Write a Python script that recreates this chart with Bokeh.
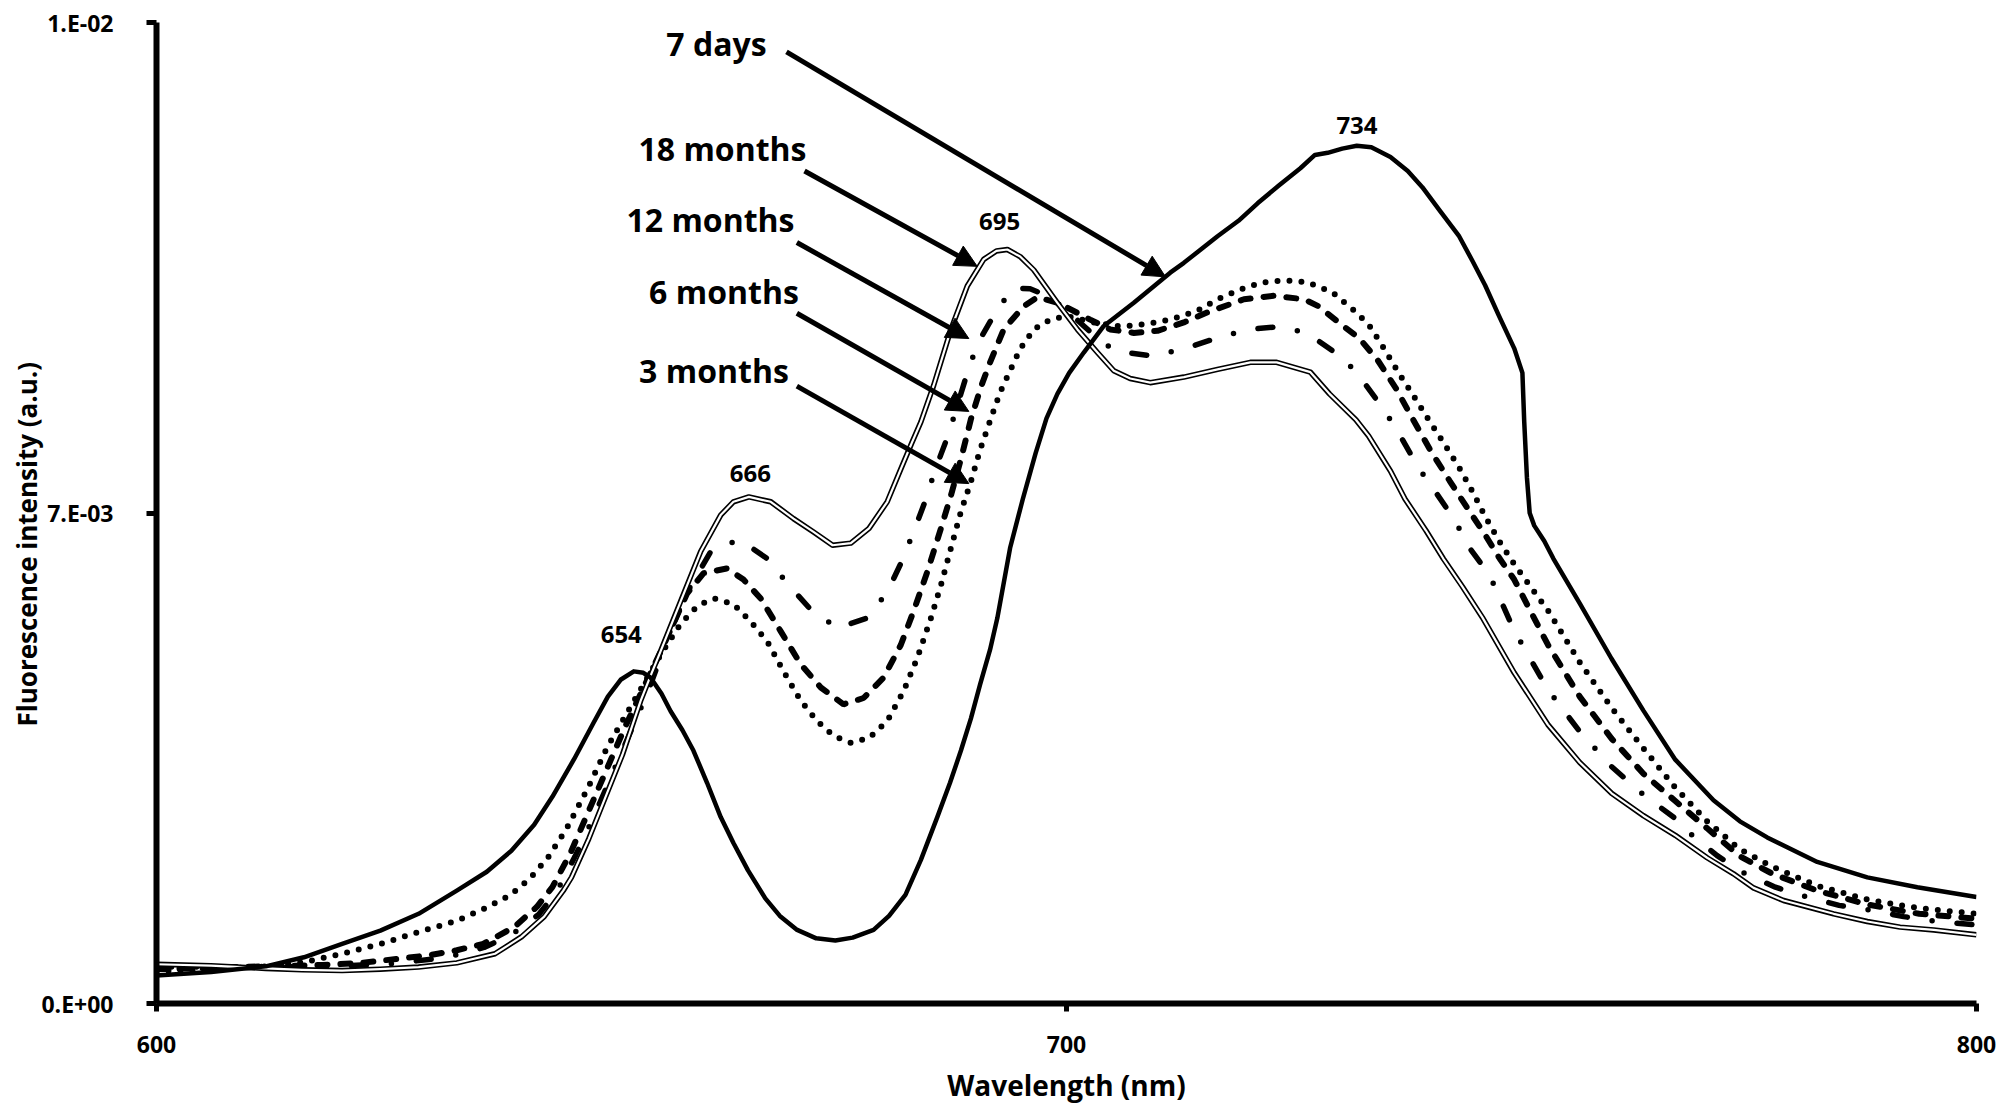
from bokeh.plotting import figure
from bokeh.models import Range1d, FixedTicker, Label, Arrow, NormalHead, Title
from bokeh.embed import file_html
from bokeh.resources import INLINE

# ---------------- data (wavelength nm, intensity in units of 1e-3 a.u.) ----------------
days_7 = [(600, 0.40), (606, 0.45), (612, 0.53), (616.2, 0.66), (620.4, 0.85), (624.6, 1.04),
          (628.8, 1.28), (633.0, 1.61), (636.3, 1.88), (639.0, 2.18), (641.5, 2.55), (643.5, 2.95),
          (645.9, 3.49), (648.0, 4.0), (649.6, 4.38), (651.0, 4.62), (652.45, 4.74), (653.5, 4.72),
          (654.3, 4.65), (655.5, 4.42), (656.5, 4.17), (657.8, 3.90), (659.0, 3.61), (660.5, 3.15),
          (662.0, 2.66), (663.4, 2.29), (665.0, 1.90), (666.9, 1.50), (668.5, 1.25), (670.4, 1.05),
          (672.5, 0.93), (674.6, 0.90), (676.5, 0.94), (678.8, 1.05), (680.5, 1.25), (682.3, 1.55),
          (684.0, 2.05), (685.8, 2.66), (687.2, 3.15), (688.4, 3.61), (689.5, 4.07), (690.5, 4.55),
          (691.6, 5.05), (692.4, 5.5), (693.8, 6.5), (695.2, 7.2), (696.6, 7.85), (697.8, 8.35),
          (699.0, 8.7), (700.3, 9.0), (701.9, 9.29), (704.1, 9.67), (707.4, 10.0), (711.4, 10.43),
          (712.9, 10.57), (716.6, 10.95), (718.9, 11.17), (721.0, 11.42), (723.3, 11.67),
          (725.7, 11.92), (727.3, 12.11), (728.7, 12.14), (730.3, 12.20), (731.9, 12.24),
          (733.5, 12.22), (735.6, 12.08), (737.5, 11.88), (739.1, 11.65), (741.0, 11.32),
          (743.1, 10.96), (744.6, 10.6), (746.0, 10.25), (747.5, 9.82), (749.2, 9.35), (750.1, 9.0),
          (750.3, 8.3), (750.6, 7.5), (750.9, 7.0), (751.4, 6.82), (752.5, 6.6), (753.5, 6.35),
          (756.4, 5.71), (759.9, 4.92), (763.4, 4.18), (766.9, 3.48), (771.1, 2.90), (774.0, 2.60),
          (777.0, 2.37), (782.5, 2.02), (788.0, 1.80), (793.5, 1.66), (800, 1.52)]

months_3 = [(600, 0.46), (606, 0.49), (612, 0.53), (616.2, 0.59), (620.4, 0.71), (624.6, 0.85),
            (628.8, 1.02), (633.0, 1.18), (636.3, 1.37), (638.9, 1.55), (641.0, 1.78), (643.0, 2.08),
            (645.0, 2.48), (647.5, 3.1), (649.5, 3.65), (651.5, 4.1), (653.5, 4.55), (655.5, 5.0),
            (657.6, 5.42), (659.5, 5.68), (661.3, 5.78), (663.4, 5.70), (665.3, 5.45), (667.1, 5.17),
            (668.9, 4.74), (670.8, 4.32), (672.6, 4.03), (674.4, 3.82), (676.3, 3.72), (678.3, 3.79),
            (680.3, 4.03), (682.1, 4.46), (683.6, 4.93), (685.1, 5.50), (686.2, 5.97), (687.3, 6.50),
            (688.4, 7.02), (689.5, 7.45), (690.5, 7.9), (691.8, 8.39), (692.7, 8.72), (693.8, 9.03),
            (694.9, 9.34), (696.4, 9.62), (698.2, 9.76), (700.1, 9.81), (703.0, 9.72), (706.0, 9.66),
            (709.0, 9.70), (711.4, 9.76), (714.3, 9.88), (716.6, 10.05), (719.1, 10.19),
            (721.5, 10.29), (724.1, 10.32), (726.5, 10.29), (729.2, 10.15), (731.6, 9.89),
            (733.2, 9.69), (734.6, 9.41), (736.6, 8.98), (738.1, 8.68), (739.6, 8.37), (741.1, 8.07),
            (743.1, 7.66), (744.6, 7.31), (746.0, 6.95), (747.6, 6.59), (749.3, 6.25), (752.9, 5.61),
            (756.4, 4.87), (759.9, 4.22), (763.4, 3.64), (766.9, 3.08), (770.4, 2.60), (774.0, 2.20),
            (777.6, 1.95), (782.5, 1.68), (788.1, 1.48), (793.7, 1.36), (800, 1.28)]

months_6 = [(600, 0.49), (606, 0.51), (612, 0.53), (618.3, 0.55), (622.5, 0.58), (626.7, 0.64),
            (630.0, 0.69), (633.0, 0.76), (635.9, 0.85), (639.3, 1.09), (641.8, 1.38), (643.5, 1.66),
            (645.5, 2.15), (647.5, 2.75), (649.5, 3.35), (651.5, 3.95), (653.5, 4.5), (655.5, 5.05),
            (658.3, 5.85), (660.1, 6.14), (662.7, 6.21), (664.5, 6.05), (666.4, 5.78), (668.6, 5.31),
            (670.8, 4.84), (673.0, 4.51), (675.5, 4.27), (677.7, 4.36), (679.9, 4.65), (681.8, 5.12),
            (683.2, 5.60), (684.7, 6.16), (686.2, 6.78), (687.3, 7.25), (688.4, 7.77), (689.5, 8.34),
            (690.6, 8.8), (691.6, 9.15), (693.1, 9.62), (695.3, 9.95), (696.8, 10.08), (699.0, 10.0),
            (700.1, 9.93), (702.6, 9.76), (704.8, 9.62), (707.4, 9.57), (710.0, 9.60), (712.9, 9.72),
            (715.8, 9.88), (719.5, 10.05), (722.8, 10.10), (726.1, 10.05), (727.7, 9.95),
            (730.2, 9.69), (732.2, 9.49), (734.2, 9.18), (736.2, 8.78), (738.1, 8.33), (740.1, 7.87),
            (742.1, 7.46), (744.1, 7.06), (746.0, 6.69), (747.6, 6.35), (749.2, 6.05), (752.9, 5.12),
            (756.4, 4.38), (759.9, 3.78), (763.4, 3.28), (766.9, 2.89), (770.4, 2.50), (774.0, 2.10),
            (777.6, 1.85), (782.5, 1.61), (788.1, 1.41), (793.7, 1.28), (800, 1.21)]

months_12 = [(600, 0.52), (606, 0.52), (612, 0.53), (618, 0.52), (626, 0.57), (632, 0.66),
             (636, 0.80), (639, 0.98), (642, 1.27), (644, 1.60), (646, 2.1), (648, 2.65), (650, 3.25),
             (652, 3.85), (654, 4.45), (656, 5.15), (658, 5.8), (660.9, 6.45), (662.0, 6.54),
             (664.2, 6.61), (667.1, 6.35), (669.5, 5.97), (671.9, 5.62), (674.8, 5.36), (678.1, 5.50),
             (680.3, 5.87), (681.9, 6.31), (683.2, 6.73), (684.5, 7.18), (685.6, 7.63), (687.0, 8.11),
             (689.1, 9.0), (690.2, 9.41), (692.4, 9.91), (694.2, 10.21), (696.0, 10.20),
             (697.5, 10.12), (699.7, 9.93), (701.9, 9.67), (704.0, 9.42), (705.9, 9.30), (709.6, 9.24),
             (713.1, 9.35), (716.6, 9.50), (720.0, 9.62), (723.5, 9.66), (726.0, 9.58), (727.3, 9.49),
             (730.5, 9.2), (732.6, 8.88), (734.9, 8.47), (736.6, 8.12), (738.6, 7.66), (740.5, 7.31),
             (742.6, 6.91), (744.3, 6.50), (746.5, 6.11), (749.2, 5.32), (752.9, 4.48), (756.4, 3.88),
             (759.9, 3.38), (763.4, 2.98), (766.9, 2.64), (768.6, 2.42), (771.5, 2.11), (774.6, 1.85),
             (777.9, 1.66), (781.4, 1.52), (784.9, 1.40), (788.4, 1.33), (792.0, 1.24), (795.7, 1.17),
             (800, 1.12)]

months_18 = [(600, 0.56), (606, 0.54), (612, 0.50), (616, 0.48), (620.4, 0.47), (624.6, 0.49),
             (628.8, 0.52), (633.0, 0.58), (637.2, 0.71), (640.1, 0.95), (642.6, 1.24), (644.7, 1.61),
             (645.6, 1.80), (647.5, 2.35), (649.5, 3.0), (651.2, 3.55), (653.2, 4.32), (654.3, 4.68),
             (655.4, 5.03), (657.6, 5.74), (659.8, 6.45), (662.0, 6.97), (663.4, 7.16), (665.1, 7.23),
             (667.5, 7.16), (670.0, 6.92), (672.2, 6.73), (674.3, 6.54), (676.3, 6.57), (678.3, 6.78),
             (680.3, 7.16), (681.8, 7.63), (683.0, 8.0), (684.0, 8.3), (685.4, 8.82), (687.3, 9.62),
             (689.1, 10.24), (690.9, 10.62), (692.3, 10.74), (693.5, 10.76), (694.9, 10.66),
             (696.4, 10.47), (699.0, 10.0), (701.2, 9.62), (703.4, 9.29), (705.2, 9.03), (707.0, 8.92),
             (709.2, 8.86), (712.9, 8.94), (716.6, 9.05), (720.2, 9.15), (723.1, 9.15), (726.8, 9.01),
             (728.9, 8.70), (731.8, 8.33), (733.2, 8.10), (735.6, 7.6), (737.2, 7.2), (739.5, 6.75),
             (741.4, 6.35), (743.5, 5.95), (745.7, 5.51), (749.2, 4.72), (752.9, 3.98), (756.4, 3.44),
             (759.9, 3.0), (763.4, 2.68), (766.9, 2.40), (770.4, 2.08), (773.3, 1.85), (775.5, 1.65),
             (778.8, 1.47), (784.3, 1.28), (788.0, 1.17), (791.6, 1.09), (795.3, 1.05), (800, 0.98)]

UNIT = 1e-3  # the series above are given in units of 1e-3 a.u.

x_ticks = [600, 700, 800]
x_tick_labels = ["600", "700", "800"]
y_ticks = [0.0, 0.007, 0.014]
y_tick_labels = ["0.E+00", "7.E-03", "1.E-02"]

series_names = ["7 days", "18 months", "12 months", "6 months", "3 months"]
peak_labels = ["654", "666", "695", "734"]

# ---------------- annotation placement (data coordinates) ----------------
name_pos = {"7 days": (661.54, 13.70), "18 months": (662.20, 12.20), "12 months": (660.88, 11.19),
            "6 months": (662.36, 10.16), "3 months": (661.26, 9.03)}
arrow_pos = {"7 days": ((669.23, 13.58), (710.88, 10.37)),
             "18 months": ((671.21, 11.88), (690.19, 10.52)),
             "12 months": ((670.37, 10.86), (689.27, 9.49)),
             "6 months": ((670.37, 9.85), (689.27, 8.45)),
             "3 months": ((670.37, 8.81), (689.27, 7.42))}
peak_pos = {"654": (651.07, 5.27), "666": (665.27, 7.57), "695": (692.64, 11.16), "734": (731.92, 12.53)}

FONT = "Open Sans"


def split(pairs):
    return [a for a, _ in pairs], [b * UNIT for _, b in pairs]


p = figure(width=2000, height=1106, output_backend="svg", toolbar_location=None,
           x_range=Range1d(600, 800), y_range=Range1d(0, 0.014),
           min_border_left=156, min_border_right=24, min_border_top=22, min_border_bottom=99)
p.outline_line_color = None
p.grid.visible = False
p.background_fill_color = "white"
p.border_fill_color = "white"

for ax in (p.xaxis[0], p.yaxis[0]):
    ax.axis_line_width = 6
    ax.axis_line_color = "black"
    ax.major_tick_line_width = 5
    ax.major_tick_line_color = "black"
    ax.major_tick_in = 0
    ax.minor_tick_line_color = None
    ax.major_label_text_font = FONT
    ax.major_label_text_font_style = "bold"
    ax.major_label_text_font_size = "23px"
    ax.major_label_text_color = "black"

p.xaxis.ticker = FixedTicker(ticks=x_ticks)
p.xaxis.major_label_overrides = dict(zip(x_ticks, x_tick_labels))
p.xaxis.major_tick_out = 8
p.xaxis.major_label_standoff = 24
p.xaxis.axis_label = "Wavelength (nm)"
p.xaxis.axis_label_text_font = FONT
p.xaxis.axis_label_text_font_style = "bold"
p.xaxis.axis_label_text_font_size = "28px"
p.xaxis.axis_label_text_color = "black"
p.xaxis.axis_label_standoff = 10

p.yaxis.ticker = FixedTicker(ticks=y_ticks)
p.yaxis.major_label_overrides = dict(zip(y_ticks, y_tick_labels))
p.yaxis.major_tick_out = 10
p.yaxis.major_label_standoff = 33

ytitle = Title(text="Fluorescence intensity (a.u.)", align="left", offset=277,
               vertical_align="bottom", text_font=FONT, text_font_style="bold",
               text_font_size="26px", text_color="black", standoff=-13)
p.add_layout(ytitle, "left")

# ---------------- curves ----------------
x, y = split(months_3)
p.line(x, y, line_color="black", line_width=6, line_dash="0 12", line_cap="round")
x, y = split(months_6)
p.line(x, y, line_color="black", line_width=6, line_dash="10 13", line_cap="round")
x, y = split(months_12)
p.line(x, y, line_color="black", line_width=5.5, line_dash="15 25 0 25", line_cap="round")
x, y = split(months_18)
p.line(x, y, line_color="black", line_width=5.5, line_join="round")
p.line(x, y, line_color="white", line_width=2.2, line_join="round")
x, y = split(days_7)
p.line(x, y, line_color="black", line_width=4.5, line_join="round")

# ---------------- annotations ----------------
for name in series_names:
    lx, ly = name_pos[name]
    p.add_layout(Label(x=lx, y=ly * UNIT, text=name, text_font=FONT, text_font_style="bold",
                       text_font_size="32px", text_align="center", text_baseline="alphabetic",
                       text_color="black"))
    (sx, sy), (ex, ey) = arrow_pos[name]
    p.add_layout(Arrow(end=NormalHead(size=22, fill_color="black", line_color="black", line_width=1),
                       x_start=sx, y_start=sy * UNIT, x_end=ex, y_end=ey * UNIT,
                       line_width=5, line_color="black"))

for lab in peak_labels:
    lx, ly = peak_pos[lab]
    p.add_layout(Label(x=lx, y=ly * UNIT, text=lab, text_font=FONT, text_font_style="bold",
                       text_font_size="24px", text_align="center", text_baseline="alphabetic",
                       text_color="black"))

open("out.html", "w").write(file_html(p, INLINE))
